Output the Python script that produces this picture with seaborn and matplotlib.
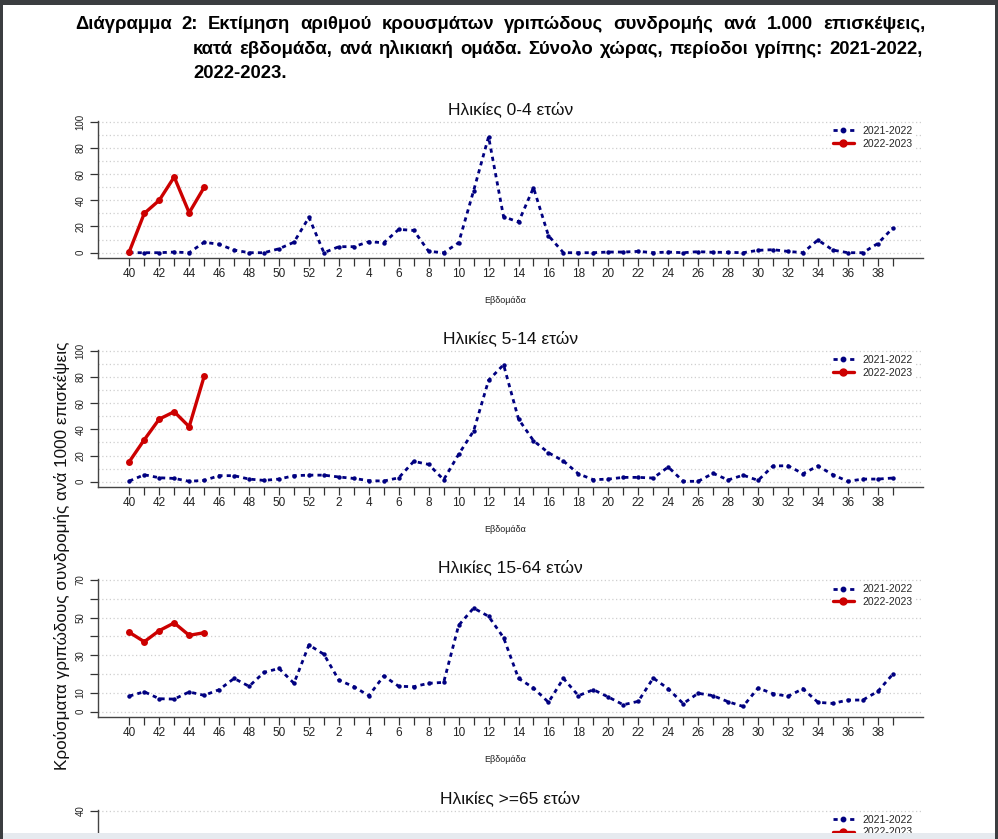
import numpy as np
import pandas as pd
import matplotlib
matplotlib.use("Agg")
import matplotlib.pyplot as plt
from matplotlib.lines import Line2D
from matplotlib.patches import Rectangle
import seaborn as sns

sns.set_theme(style="white")
plt.rcParams['font.family'] = ['Liberation Sans', 'DejaVu Sans']

# ---------------- data ----------------
weeks = list(range(40, 53)) + list(range(1, 40))
season_old = "2021-2022"
season_new = "2022-2023"

titles = ["Ηλικίες 0-4 ετών", "Ηλικίες 5-14 ετών", "Ηλικίες 15-64 ετών", "Ηλικίες >=65 ετών"]

a04_2122 = [0, 0, 0, 0.5, 0, 8, 6.4, 2, 0, 0, 3, 8, 27,
            0, 4.6, 4.6, 8.4, 7.6, 17.8, 17, 1, 0, 7.6, 47.3, 88.5, 27.5, 23.4, 49.6, 13,
            0, 0, 0, 0.5, 0.5, 1, 0, 0.5, 0, 0.8, 0.3, 0.3, 0, 1.8, 2.3, 1, 0, 9.7, 2, 0, 0, 7, 18.8]
a04_2223 = [0.8, 30, 40, 57.8, 30.5, 49.9]

a514_2122 = [0.5, 5.3, 3, 2.5, 0.3, 1, 4.6, 4.6, 2, 1, 2, 4.6, 5,
             5, 3.6, 2.5, 0.8, 0.5, 3, 15.5, 13.2, 1.5, 20.9, 38.7, 77.4, 89.3, 47.8, 31.3, 22.1,
             15.8, 6, 1.5, 2, 3.3, 3.3, 2.8, 11.2, 0.3, 0.3, 6.4, 1.3, 5, 1, 12, 12.2, 6.1, 12, 5.3, 0.3, 2, 2, 2.8]
a514_2223 = [15.3, 32, 47.8, 53.4, 42, 80.4]

a1564_2122 = [8.3, 10.6, 6.9, 6.7, 10.5, 8.7, 11.7, 17.7, 13.5, 20.9, 23, 15.1, 35.5,
              30.5, 16.8, 13.3, 8.5, 19, 13.5, 13.3, 15.1, 15.6, 45.9, 55.1, 50.7, 39.4, 17.7, 12.6, 5,
              17.7, 8.5, 11.7, 7.8, 3.7, 5.5, 17.9, 12.2, 4.3, 9.8, 8.5, 5.3, 2.8, 12.6, 9.6, 8.2, 12.2, 5, 4.4, 6.2, 6.2, 10.8, 19.9]
a1564_2223 = [42.2, 37.2, 43.1, 47.2, 40.6, 42]

panels = [(a04_2122, a04_2223), (a514_2122, a514_2223), (a1564_2122, a1564_2223)]

header1 = "Διάγραμμα 2: Εκτίμηση αριθμού κρουσμάτων γριπώδους συνδρομής ανά 1.000 επισκέψεις,"
header2 = "κατά εβδομάδα, ανά ηλικιακή ομάδα. Σύνολο χώρας, περίοδοι γρίπης: 2021-2022,"
header3 = "2022-2023."
ylabel = "Κρούσματα γριπώδους συνδρομής ανά 1000 επισκέψεις"
xlabel = "Εβδομάδα"

# ---------------- style ----------------
W, H = 998, 839
NAVY = "#000080"
RED = "#cc0000"
GRID = "#cfcfcf"

fig = plt.figure(figsize=(W / 100, H / 100), dpi=100)
fig.patch.set_facecolor("white")

def px_axes(left, right, top, bottom):
    return fig.add_axes([left / W, 1 - bottom / H, (right - left) / W, (bottom - top) / H])

x_left, x_right = 98, 923
pxw = 14.97
x0 = 129.3
xlim = ((x_left - x0) / pxw, (x_right - x0) / pxw)

specs = [
    dict(y0=252.7, ppu=1.31, ymin=-4.0, ymax=100.5, yt=list(range(0, 101, 20)), grid=list(range(0, 101, 10))),
    dict(y0=481.7, ppu=1.31, ymin=-4.0, ymax=100.5, yt=list(range(0, 101, 20)), grid=list(range(0, 101, 10))),
    dict(y0=711.7, ppu=1.881, ymin=-2.7, ymax=70.4, yt=list(range(0, 71, 10)), grid=list(range(0, 71, 10))),
    dict(y0=941.7, ppu=3.28, ymin=-1.6, ymax=40.2, yt=[40], grid=[40]),
]

handles = [
    Line2D([], [], color=NAVY, lw=2.0, linestyle=(0, (1.5, 1.5)), marker='o', markersize=3.2),
    Line2D([], [], color=RED, lw=2.4, linestyle='-', marker='o', markersize=5),
]

idx = np.arange(len(weeks))
for p, sp in enumerate(specs):
    top = sp['y0'] - sp['ymax'] * sp['ppu']
    bottom = sp['y0'] - sp['ymin'] * sp['ppu']
    ax = px_axes(x_left, x_right, top, bottom)
    ax.set_facecolor("none")
    if p < 3:
        old, new = panels[p]
        df_old = pd.DataFrame({"idx": idx, "val": old})
        df_new = pd.DataFrame({"idx": idx[:len(new)], "val": new})
        sns.lineplot(data=df_old, x="idx", y="val", ax=ax, color=NAVY, lw=2.0,
                     linestyle=(0, (1.5, 1.5)), marker='o', markersize=3.2,
                     markeredgewidth=0, zorder=3, clip_on=False)
        sns.lineplot(data=df_new, x="idx", y="val", ax=ax, color=RED, lw=2.4,
                     marker='o', markersize=5, markeredgewidth=0, zorder=4, clip_on=False)
    ax.set_xlim(*xlim)
    ax.set_ylim(sp['ymin'], sp['ymax'])
    for g in sp['grid']:
        ax.axhline(g, color=GRID, lw=0.9, linestyle=(0, (1, 2)), zorder=1)
    ax.set_yticks(sp['yt'])
    if p == 2:
        ax.set_yticklabels([str(v) if v in (0, 10, 30, 50, 70) else "" for v in sp['yt']])
    else:
        ax.set_yticklabels([str(v) for v in sp['yt']])
    for lab in ax.get_yticklabels():
        lab.set_rotation(90)
        lab.set_va('center')
    ax.set_xticks(idx)
    if p < 3:
        ax.set_xticklabels([str(w) if i % 2 == 0 else "" for i, w in enumerate(weeks)])
    else:
        ax.set_xticklabels([])
    ax.tick_params(axis='x', length=6, width=0.9, color="#333333", labelsize=8.5, pad=1.5,
                   direction='out', bottom=True, labelcolor="#222222", labelbottom=(p < 3))
    ax.tick_params(axis='y', length=6, width=0.9, color="#333333", labelsize=7, pad=3,
                   direction='out', left=True, labelcolor="#222222")
    for s in ("top", "right"):
        ax.spines[s].set_visible(False)
    for s in ("left", "bottom"):
        ax.spines[s].set_color("#444444")
        ax.spines[s].set_linewidth(1.0)
    ax.set_xlabel("")
    ax.set_ylabel("")
    ax.set_title(titles[p], fontsize=12.5, pad=5, color="#111111")
    if p < 3:
        ax.text(0.493, -43 / (bottom - top), xlabel, transform=ax.transAxes, ha='center',
                va='center', fontsize=6.5, color="#222222")
    leg = ax.legend(handles, [season_old, season_new], loc='upper left',
                    bbox_to_anchor=((832 - x_left) / (x_right - x_left), 1 - 4 / (bottom - top)),
                    fontsize=7.5, frameon=True, borderpad=0.1, borderaxespad=0,
                    handlelength=2.0, handletextpad=0.8, labelspacing=0.25)
    leg.get_frame().set_facecolor("white")
    leg.get_frame().set_edgecolor("none")
    leg.get_frame().set_alpha(1)

# y label
fig.text(62 / W, 1 - 556 / H, ylabel, rotation=90, ha='center', va='center',
         fontsize=12.3, color="#111111")

# header (justified lines)
renderer = fig.canvas.get_renderer()
HFS = 13.3

def justify(text, xa, xb, ybase, fs=HFS):
    words = text.split()
    objs = [fig.text(0, 0, w, fontsize=fs, fontweight='bold', color='black', va='baseline')
            for w in words]
    widths = [o.get_window_extent(renderer).width for o in objs]
    gap = (xb - xa - sum(widths)) / (len(words) - 1)
    x = xa
    for o, w in zip(objs, widths):
        o.set_position((x / W, 1 - ybase / H))
        x += w + gap

justify(header1, 75, 925, 29)
justify(header2, 193, 923, 54)
fig.text(193 / W, 1 - 78 / H, header3, fontsize=HFS, fontweight='bold', color='black', va='baseline')

# page frame of the screenshot
for (x, y, w, h, c) in [(0, 0, W, 5, "#3b3d40"), (0, 0, 3, H, "#3b3d40"),
                        (995, 0, 3, H, "#3b3d40"), (3, 833, 992, 6, "#e6eaef")]:
    fig.patches.append(Rectangle((x / W, 1 - (y + h) / H), w / W, h / H,
                                 transform=fig.transFigure, facecolor=c, edgecolor='none', zorder=10))

fig.savefig("out.png", dpi=100)
